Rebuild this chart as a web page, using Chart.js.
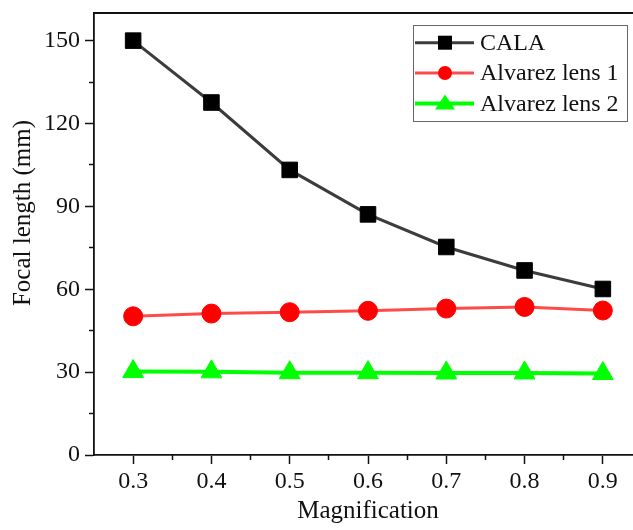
<!DOCTYPE html>
<html>
<head>
<meta charset="utf-8">
<script src="https://cdn.jsdelivr.net/npm/chart.js@4/dist/chart.umd.min.js"></script>
<style>
	html, body { margin: 0; padding: 0; overflow: hidden; background: #fff; }
	#wrap { position: relative; width: 660px; height: 530px; }
</style>
</head>
<body>
<div id="wrap"><canvas id="focalChart"></canvas></div>
<script>
//data
const magnification = [0.3, 0.4, 0.5, 0.6, 0.7, 0.8, 0.9];
const calaFocal = [150, 127.6, 103.2, 87.1, 75.3, 66.8, 60.1];
const alvarez1Focal = [50.2, 51.2, 51.7, 52.2, 53.0, 53.6, 52.3];
const alvarez2Focal = [30.2, 30.1, 29.8, 29.8, 29.7, 29.7, 29.5];

//tick values
const xTicks = [0.3, 0.4, 0.5, 0.6, 0.7, 0.8, 0.9];
const xMinorTicks = [0.35, 0.45, 0.55, 0.65, 0.75, 0.85];
const yTicks = [0, 30, 60, 90, 120, 150];
const yMinorTicks = [15, 45, 75, 105, 135];

const serif = "'Liberation Serif', 'Times New Roman', serif";

const toPoints = (ys) => ys.map((y, i) => ({ x: magnification[i], y: y }));

//draws the plot frame (top/right), the y title and the boxed legend
const framePlugin = {
	id: 'frame',
	afterDraw(chart) {
		const ctx = chart.ctx;
		const a = chart.chartArea;
		ctx.save();
		ctx.strokeStyle = '#111';
		ctx.lineWidth = 1.8;
		ctx.beginPath();
		ctx.moveTo(a.left, a.top);
		ctx.lineTo(a.right, a.top);
		ctx.lineTo(a.right, a.bottom);
		ctx.stroke();

		//y axis title
		ctx.fillStyle = '#111';
		ctx.font = '25px ' + serif;
		ctx.textAlign = 'center';
		ctx.textBaseline = 'middle';
		ctx.translate(23, 213);
		ctx.rotate(-Math.PI / 2);
		ctx.fillText('Focal length (mm)', 0, 0);
		ctx.restore();

		//legend
		ctx.save();
		ctx.strokeStyle = '#666';
		ctx.lineWidth = 1;
		ctx.strokeRect(413.5, 25.5, 214, 96);
		const rows = [42.7, 73, 103.5];
		chart.data.datasets.forEach((ds, i) => {
			const y = rows[i];
			ctx.strokeStyle = ds.borderColor;
			ctx.lineWidth = ds.borderWidth;
			ctx.beginPath();
			ctx.moveTo(415, y);
			ctx.lineTo(474, y);
			ctx.stroke();
			ctx.fillStyle = ds.pointBackgroundColor;
			ctx.beginPath();
			if (ds.pointStyle === 'rect') {
				ctx.rect(438, y - 7, 14, 14);
			} else if (ds.pointStyle === 'circle') {
				ctx.arc(445, y, 7, 0, Math.PI * 2);
			} else {
				ctx.moveTo(445, y - 9);
				ctx.lineTo(455, y + 6);
				ctx.lineTo(435, y + 6);
				ctx.closePath();
			}
			ctx.fill();
			ctx.fillStyle = '#111';
			ctx.font = '24px ' + serif;
			ctx.textAlign = 'left';
			ctx.textBaseline = 'middle';
			ctx.fillText(ds.label, 480, y + 1);
		});
		ctx.restore();
	}
};

const tickFont = { family: serif, size: 24 };

//the axes keep no label padding of their own, layout.padding sets the plot box
const noPad = (s) => { s.paddingTop = 0; s.paddingBottom = 0; s.paddingLeft = 0; s.paddingRight = 0; };

new Chart(document.getElementById('focalChart'), {
	type: 'line',
	data: {
		datasets: [{
			label: 'CALA',
			data: toPoints(calaFocal),
			borderColor: '#3c3c3c',
			borderWidth: 3,
			pointStyle: 'rect',
			pointRadius: 11,
			pointBackgroundColor: '#000',
			pointBorderColor: '#000',
			pointBorderWidth: 1,
		}, {
			label: 'Alvarez lens 1',
			data: toPoints(alvarez1Focal),
			borderColor: '#ff4a4a',
			borderWidth: 3,
			pointStyle: 'circle',
			pointRadius: 9.5,
			pointBackgroundColor: '#ff0000',
			pointBorderColor: '#ff0000',
			pointBorderWidth: 1,
		}, {
			label: 'Alvarez lens 2',
			data: toPoints(alvarez2Focal),
			borderColor: '#00ff00',
			borderWidth: 4,
			pointStyle: 'triangle',
			pointRadius: 12,
			pointBackgroundColor: '#00ff00',
			pointBorderColor: '#00ff00',
			pointBorderWidth: 1,
		}]
	},
	options: {
		responsive: true,
		maintainAspectRatio: false,
		animation: false,
		events: [],
		layout: { padding: { top: 12, right: 18, left: 0, bottom: 0 } },
		plugins: { legend: { display: false }, tooltip: { enabled: false } },
		scales: {
			x: {
				type: 'linear',
				position: 'bottom',
				weight: 1,
				min: 0.25,
				max: 0.95,
				afterBuildTicks: (s) => { s.ticks = xTicks.map((v) => ({ value: v })); },
				afterFit: (s) => { s.height = 75; noPad(s); },
				ticks: { font: tickFont, color: '#111', padding: 3, maxRotation: 0, callback: (v) => v.toFixed(1) },
				grid: { drawOnChartArea: false, tickLength: 9, tickWidth: 1.5, tickColor: '#111' },
				border: { color: '#111', width: 1.8 },
				title: { display: true, text: 'Magnification', color: '#111', font: { family: serif, size: 25 }, padding: { top: 0, bottom: 4 } }
			},
			xMinor: {
				type: 'linear',
				position: 'bottom',
				weight: 0,
				min: 0.25,
				max: 0.95,
				afterBuildTicks: (s) => { s.ticks = xMinorTicks.map((v) => ({ value: v })); },
				afterFit: (s) => { s.height = 0; noPad(s); },
				ticks: { display: false },
				grid: { drawOnChartArea: false, tickLength: 5, tickWidth: 1.5, tickColor: '#111' },
				border: { display: false }
			},
			y: {
				type: 'linear',
				position: 'left',
				weight: 1,
				min: 0,
				max: 160,
				afterBuildTicks: (s) => { s.ticks = yTicks.map((v) => ({ value: v })); },
				afterFit: (s) => { s.width = 94; noPad(s); },
				ticks: { font: tickFont, color: '#111', padding: 5 },
				grid: { drawOnChartArea: false, tickLength: 9, tickWidth: 1.5, tickColor: '#111' },
				border: { color: '#111', width: 1.8 }
			},
			yMinor: {
				type: 'linear',
				position: 'left',
				weight: 0,
				min: 0,
				max: 160,
				afterBuildTicks: (s) => { s.ticks = yMinorTicks.map((v) => ({ value: v })); },
				afterFit: (s) => { s.width = 0; noPad(s); },
				ticks: { display: false },
				grid: { drawOnChartArea: false, tickLength: 5, tickWidth: 1.5, tickColor: '#111' },
				border: { display: false }
			}
		}
	},
	plugins: [framePlugin]
});
</script>
</body>
</html>
